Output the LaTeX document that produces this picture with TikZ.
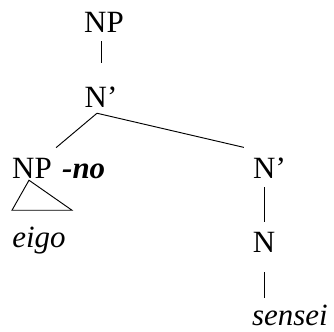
\documentclass[tikz,border=0pt]{standalone}
\usepackage{fontspec}
\setmainfont{Liberation Serif}[Ligatures=TeX]
\usetikzlibrary{calc}
\begin{document}
\begin{tikzpicture}[x=0.03cm, y=-0.03cm, lab/.style={font=\fontsize{26.4}{32}\selectfont, inner sep=0pt, anchor=base}, branch/.style={line width=0.8pt, black}, roof/.style={line width=0.8pt, black, line join=miter}]
\useasboundingbox (0,0) rectangle (334,331);
\node[lab] (np) at (104,32) {NP};
\node[lab] (nbar) at (101,107) {N’};
\node[lab] (np2) at (32,178) {NP};
\node[lab, anchor=base west, xshift=0.3cm] (no) at (np2.base east) {\textbf{\textit{-no}}};
\node[lab] (eigo) at (39,247) {\textit{eigo}};
\node[lab] (nbarR) at (269.5,178) {N’};
\node[lab] (nR) at (264,252) {N};
\node[lab] (sensei) at (290,325) {\textit{sensei}};
\coordinate (nfork) at ($(nbar.south)+(-4,6)$);
\draw[branch, shorten <=0.27cm, shorten >=0.69cm] (nbar.north |- np.south) -- (nbar.north);
\draw[branch, shorten >=0.46cm] (nfork) -- (np2.40);
\draw[branch, shorten >=1.3cm] (nfork) -- (nbarR.north east);
\draw[branch, shorten <=0.27cm, shorten >=0.29cm] (nR.north |- nbarR.south) -- (nR.north);
\draw[branch, shorten <=0.6cm, shorten >=0.2cm] (nR.south) -- (nR.south |- sensei.north);
% triangle under NP
\draw[roof] ($(np2.south)+(-3,2)$) -- ($(np2.south west)+(0,32)$) -- ($(np2.south west)+(60,32)$) -- cycle;
\end{tikzpicture}
\end{document}
